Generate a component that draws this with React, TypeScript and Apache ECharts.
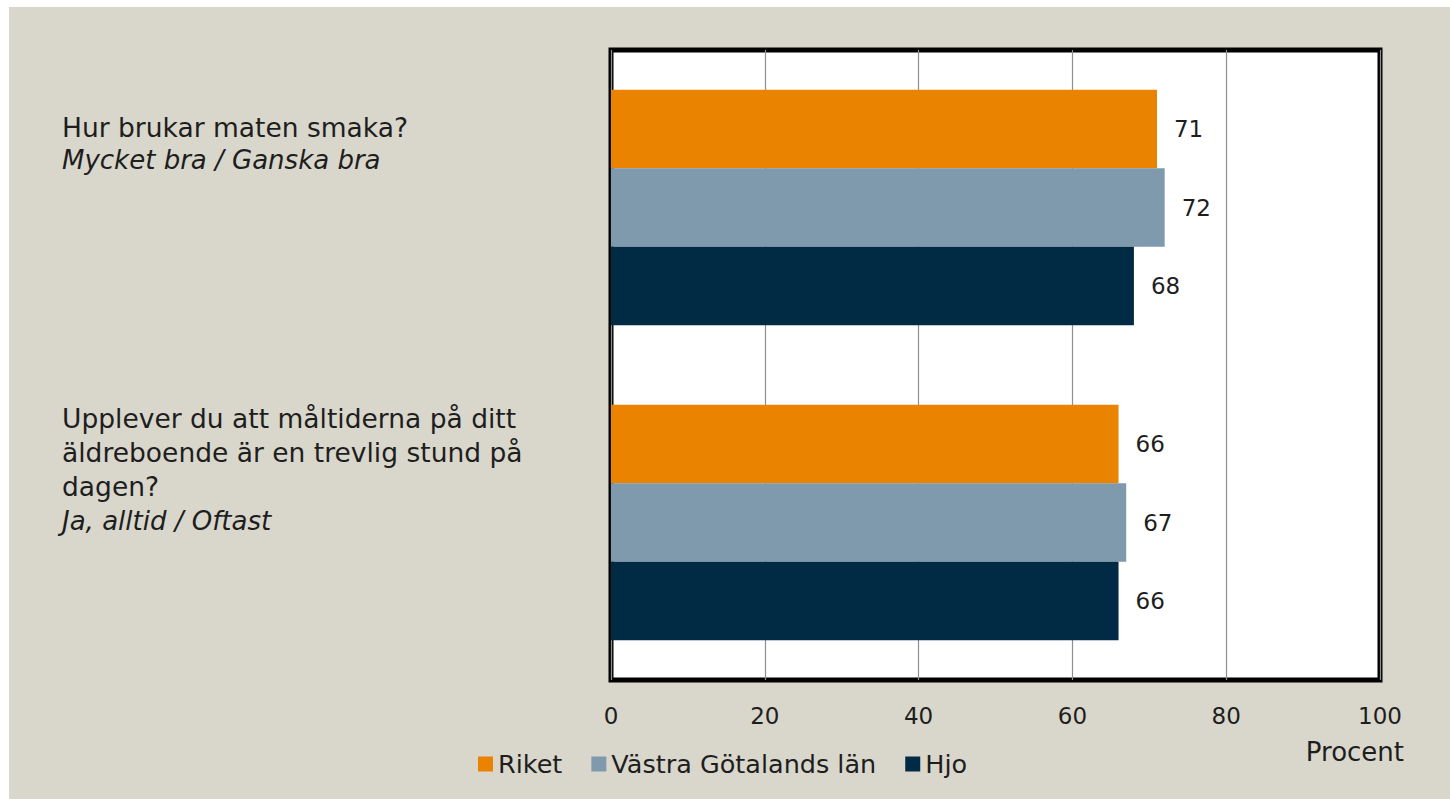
import React, { useEffect, useRef } from "react";
import * as echarts from "echarts";

const categories = ["q1", "q2"];
const questionLines = [
  ["Hur brukar maten smaka?"],
  ["Upplever du att måltiderna på ditt", "äldreboende är en trevlig stund på", "dagen?"],
];
const answerLines = ["Mycket bra / Ganska bra", "Ja, alltid / Oftast"];
const seriesNames = ["Riket", "Västra Götalands län", "Hjo"];
const riket = [71, 66];
const vgl = [72, 67];
const hjo = [68, 66];
const seriesColors = ["#E98300", "#7E9AAC", "#012B44"];
const xTicks = [0, 20, 40, 60, 80, 100];

const FONT = "DejaVu Sans";
const TXT = "#1e1e1e";

export default function App() {
  const ref = useRef<HTMLDivElement>(null);
  useEffect(() => {
    if (!ref.current) return;
    const chart = echarts.init(ref.current, undefined, { renderer: "svg" });
    const values = [riket, vgl, hjo];
    const labelTops = [107, 398];
    chart.setOption({
      animation: false,
      backgroundColor: "#D9D7CB",
      textStyle: { fontFamily: FONT, color: TXT },
      grid: {
        left: 602,
        top: 43,
        width: 769,
        height: 630,
        show: true,
        backgroundColor: "#ffffff",
        borderColor: "#000000",
        borderWidth: 5,
      },
      legend: {
        left: 464,
        top: 739,
        itemWidth: 15,
        itemHeight: 15,
        itemGap: 29,
        icon: "rect",
        textStyle: { fontFamily: FONT, fontSize: 25.5, color: TXT },
        data: seriesNames,
      },
      xAxis: {
        type: "value",
        min: 0,
        max: 100,
        interval: 20,
        axisLine: { show: false },
        axisTick: { show: false },
        splitLine: { show: true, lineStyle: { color: "#8f8f8f", width: 1.2 } },
        axisLabel: {
          margin: 24,
          fontSize: 23,
          color: TXT,
          fontFamily: FONT,
          formatter: (v: number) => (xTicks.includes(v) ? String(v) : ""),
        },
      },
      yAxis: {
        type: "category",
        inverse: true,
        data: categories,
        axisLine: { show: false },
        axisTick: { show: false },
        axisLabel: { show: false },
      },
      graphic: [
        ...categories.map((c, i) => ({
          type: "text",
          left: 53,
          top: labelTops[i],
          style: {
            text:
              questionLines[i].map((l) => `{a|${l}}`).join("\n") +
              `\n{b|${answerLines[i]}}`,
            rich: {
              a: { fontFamily: FONT, fontSize: 26.5, lineHeight: i === 0 ? 32 : 34, fill: TXT },
              b: { fontFamily: FONT, fontSize: 26, lineHeight: i === 0 ? 32 : 34, fontStyle: "italic", fill: TXT },
            },
          },
        })),
        {
          type: "text",
          right: 46,
          top: 732,
          style: { text: "Procent", fontFamily: FONT, fontSize: 26, fill: TXT },
        },
      ],
      series: seriesNames.map((name, si) => ({
        name,
        type: "bar",
        data: values[si],
        barGap: "0%",
        barCategoryGap: "25.2%",
        itemStyle: { color: seriesColors[si] },
        label: {
          show: true,
          position: "right",
          distance: 17,
          fontFamily: FONT,
          fontSize: 23,
          color: TXT,
        },
      })),
    });
    return () => chart.dispose();
  }, []);
  return (
    <div
      ref={ref}
      style={{ position: "absolute", left: 9, top: 7, width: 1441, height: 792 }}
    />
  );
}
